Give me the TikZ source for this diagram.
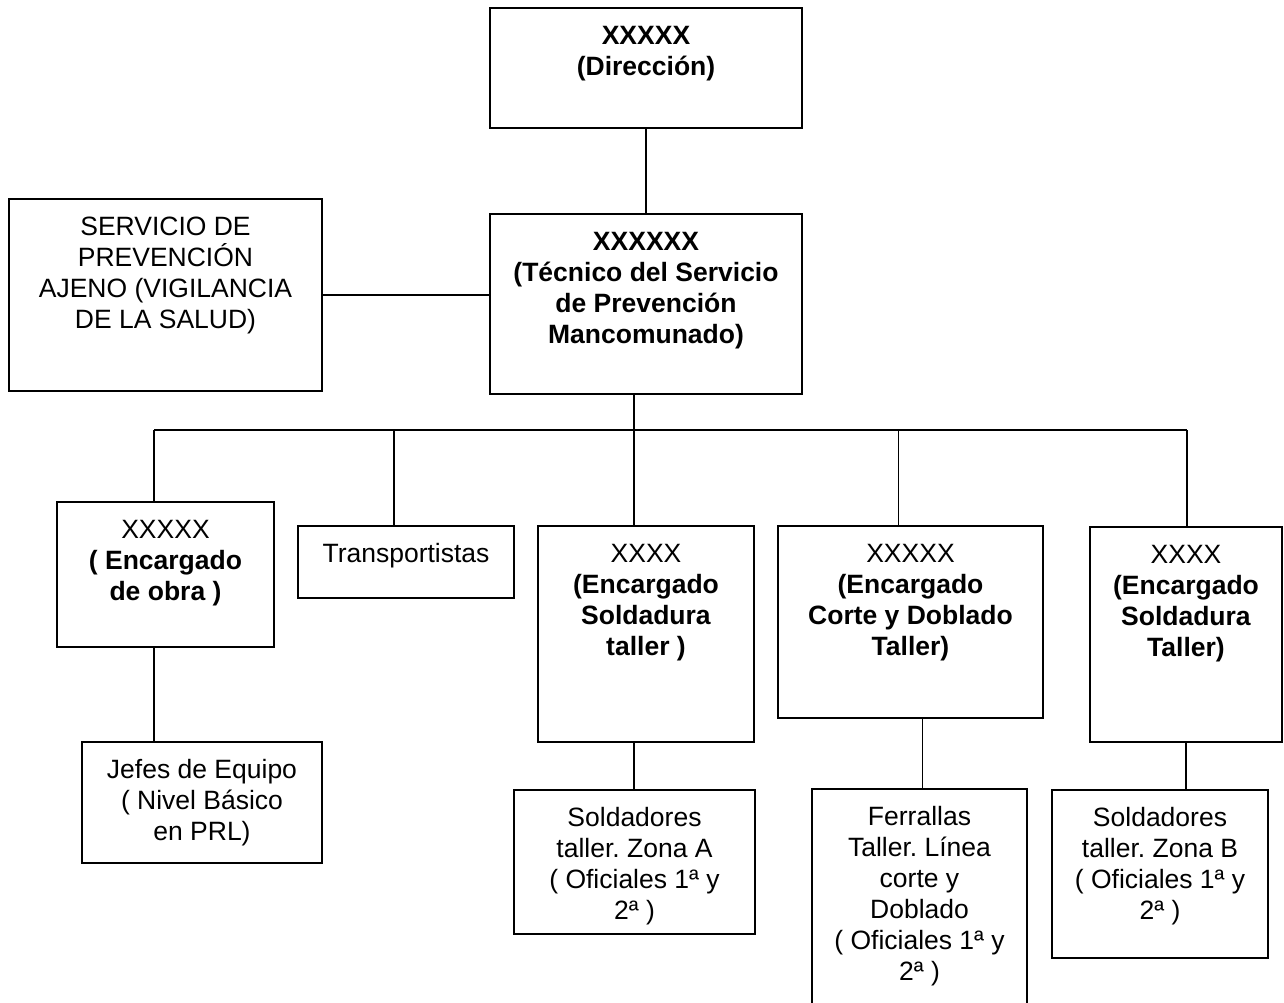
\documentclass[tikz,border=0pt]{standalone}
\usepackage{fontspec}
\setmainfont{Liberation Sans}
\usepackage{tikz}
\usetikzlibrary{calc}
\frenchspacing

% text of a box: fixed size, lines from the top
\newcommand{\boxtxt}[3]{\parbox[c][#2][t]{#1}{\centering\rule{0pt}{36pt}#3}}

\begin{document}
\begin{tikzpicture}[x=1pt,y=-1pt,
                    box/.style={rectangle,draw,line width=1.8pt,inner sep=0pt,
                                font=\fontsize{26.5}{31}\selectfont},
                    conn/.style={line width=1.6pt}]
  \useasboundingbox (0,0) rectangle (1284,1002);

  \node[box] (1) at (646,68) {\boxtxt{312pt}{120pt}{\bfseries XXXXX\\(Dirección)}};
  \node[box] (2) at (646,304) {\boxtxt{312pt}{180pt}{\bfseries XXXXXX\\(Técnico del Servicio\\de Prevención\\Mancomunado)}};
  \node[box] (3) at (165.5,295) {\boxtxt{313pt}{192pt}{SERVICIO DE\\PREVENCIÓN\\AJENO (VIGILANCIA\\DE LA SALUD)}};

  \node[box] (4) at (165.5,574.5) {\boxtxt{217pt}{145pt}{XXXXX\\\textbf{( Encargado}\\\textbf{de obra )}}};
  \node[box] (5) at (406,562) {\boxtxt{216pt}{72pt}{Transportistas}};
  \node[box] (6) at (646,634) {\boxtxt{216pt}{216pt}{XXXX\\\textbf{(Encargado}\\\textbf{Soldadura}\\\textbf{taller )}}};
  \node[box] (7) at (910.5,622) {\boxtxt{265pt}{192pt}{XXXXX\\\textbf{(Encargado}\\\textbf{Corte y Doblado}\\\textbf{Taller)}}};
  \node[box] (8) at (1186,634.5) {\boxtxt{192pt}{215pt}{XXXX\\\textbf{(Encargado}\\\textbf{Soldadura}\\\textbf{Taller)}}};

  \node[box] (9) at (202,802.5) {\boxtxt{240pt}{121pt}{Jefes de Equipo\\( Nivel Básico\\en PRL)}};
  \node[box] (10) at (634.5,862) {\boxtxt{241pt}{144pt}{Soldadores\\taller. Zona A\\( Oficiales 1ª y\\2ª )}};
  \node[box] (11) at (919.5,902) {\boxtxt{215pt}{226pt}{Ferrallas\\Taller. Línea\\corte y\\Doblado\\( Oficiales 1ª y\\2ª )}};
  \node[box] (12) at (1160,874) {\boxtxt{216pt}{168pt}{Soldadores\\taller. Zona B\\( Oficiales 1ª y\\2ª )}};

  \coordinate (b1) at (154,430);
  \coordinate (b2) at (1187,430);

  \path[conn]
    (1) edge (2)
    (3.east) edge (3.east -| 2.west)
    ([xshift=-12]2.south) edge ([xshift=-12]2.south |- b1)
    (b1) edge (b2)
    (b1) edge (b1 |- 4.north)
    ([xshift=-12]5.north) edge ([xshift=-12]5.north |- b1)
    ([xshift=-12]6.north) edge ([xshift=-12]6.north |- b1)
    ([xshift=-12]7.north) edge ([xshift=-12]7.north |- b1)
    (b2) edge (b2 |- 8.north)
    (b1 |- 4.south) edge (b1 |- 9.north)
    ([xshift=-12]6.south) edge ([xshift=-12]6.south |- 10.north)
    ([xshift=12]7.south) edge ([xshift=12]7.south |- 11.north)
    (8.south) edge (8.south |- 12.north);
\end{tikzpicture}
\end{document}
